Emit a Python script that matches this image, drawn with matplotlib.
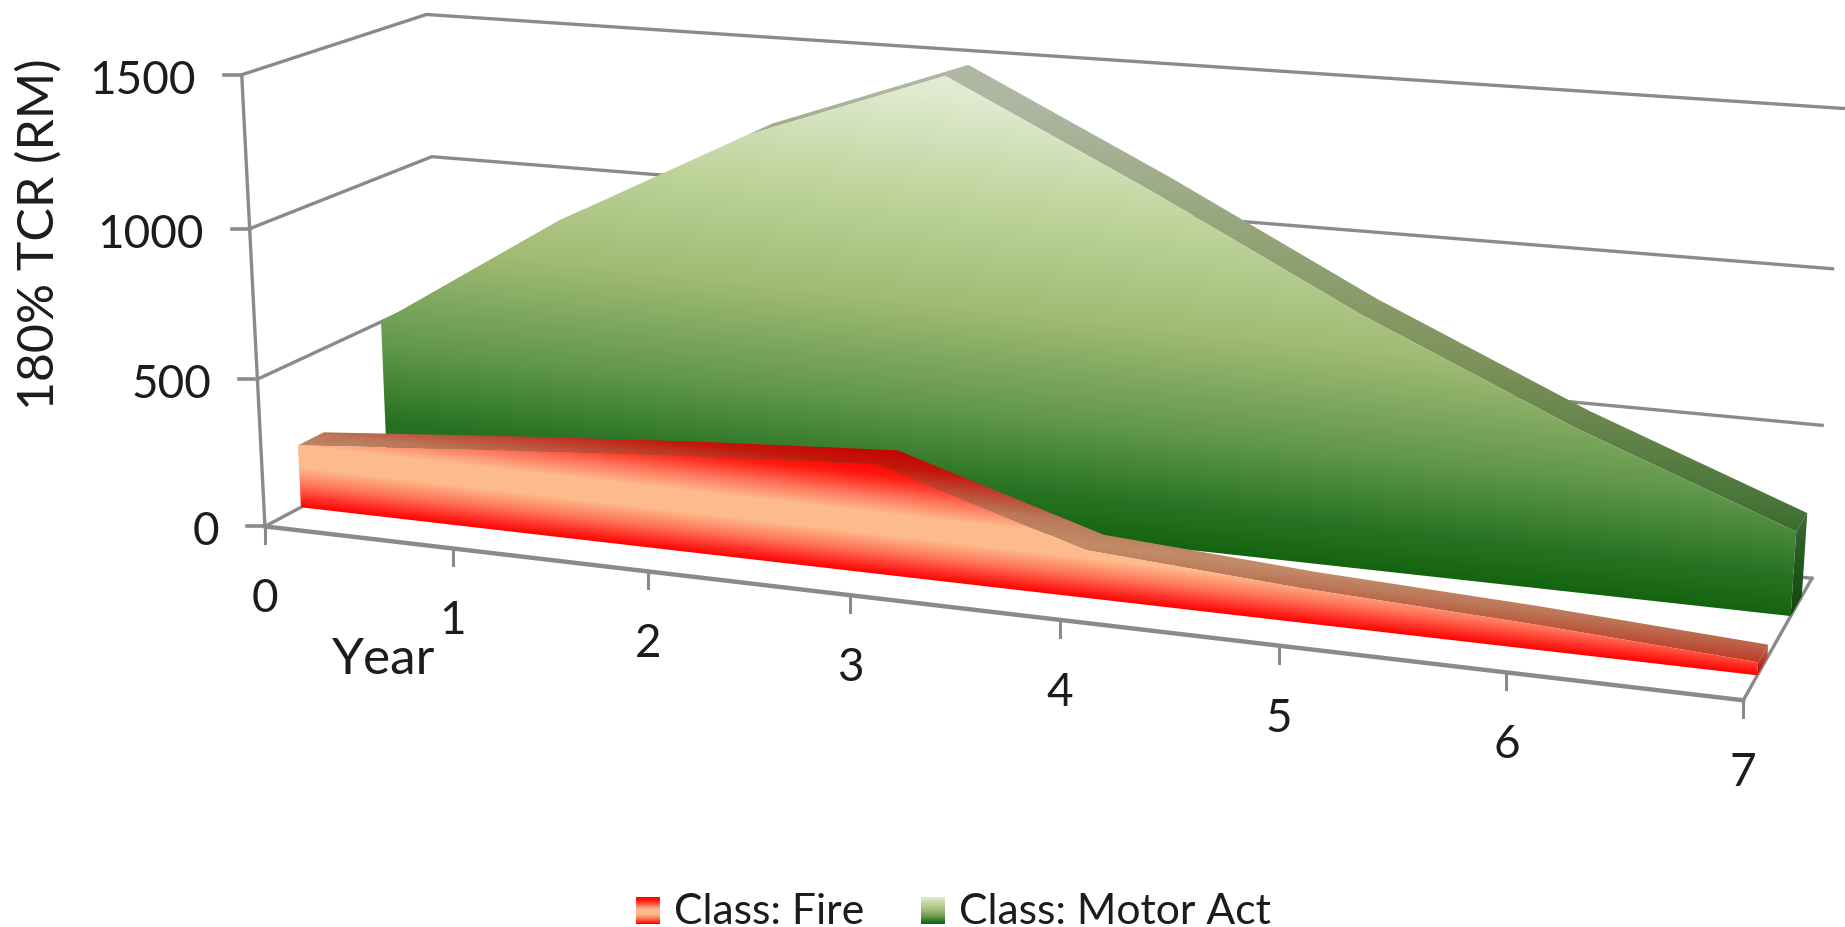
import numpy as np
import matplotlib
matplotlib.use('Agg')
import matplotlib.pyplot as plt
from matplotlib.patches import Polygon

plt.rcParams['font.family'] = ['Lato', 'DejaVu Sans']

years = [0, 1, 2, 3, 4, 5, 6, 7]
fire_tcr = [215, 270, 320, 360, 155, 110, 80, 40]
motor_tcr = [500, 910, 1250, 1490, 1170, 830, 530, 270]
value_ticks = [0, 500, 1000, 1500]
series_names = ['Class: Fire', 'Class: Motor Act']
value_label = '180% TCR (RM)'
year_label = 'Year'

W, H = 1845, 928
S = 1845 / 1568  # layout numbers below are in 1568-wide units

AXIS = '#8a8a8a'
TEXT = '#1c1c1c'

# camera fit: (year, depth, value) -> layout position of the chart box corners
box_refs = [
    (0, 0, 0, 226, 450), (7, 0, 0, 1481, 597), (7, 1, 0, 1539, 491),
    (0, 0, 500, 218, 322), (0, 0, 1000, 212, 193), (0, 0, 1500, 206, 65),
    (0, 1, 1000, 367, 134), (0, 1, 1500, 362, 14),
    (7, 1, 500, 1550, 362), (7, 1, 1000, 1558, 230), (7, 1, 1500, 1566, 93),
]


def fit_camera(refs):
    a, b = [], []
    for x, d, z, u, v in refs:
        X = [x / 7, d, z / 1500, 1]
        a.append(X + [0, 0, 0, 0] + [-u * c for c in X[:3]])
        b.append(u)
        a.append([0, 0, 0, 0] + X + [-v * c for c in X[:3]])
        b.append(v)
    p = np.linalg.lstsq(np.array(a, float), np.array(b, float), rcond=None)[0]
    return np.append(p, 1).reshape(3, 4)


CAM = fit_camera(box_refs)


def project(x, d, z):
    x, d, z = np.broadcast_arrays(np.asarray(x, float), d, np.asarray(z, float))
    pts = np.stack([x / 7, d, z / 1500, np.ones_like(x)])
    u, v, w = CAM @ pts
    return u / w * S, v / w * S


def gradient_rgb(offset, stops):
    pos = [s[0] for s in stops]
    return np.stack([np.interp(offset, pos, [s[1][i] for s in stops]) for i in range(3)], axis=-1) / 255


def painted(ax, poly, d, stops, shade, z):
    # fill a polygon with a colour ramp running parallel to the series' base line
    x0, y0 = project(0, d, 0)
    x1, y1 = project(7, d, 0)
    slope = (y1 - y0) / (x1 - x0)
    xx, yy = np.meshgrid(np.arange(W) + 0.5, np.arange(H) + 0.5)
    off = (yy - (y0 + slope * (xx - x0))) / S
    im = ax.imshow(gradient_rgb(off, stops) * shade, extent=(0, W, H, 0), aspect='auto',
                   interpolation='nearest', zorder=z)
    patch = Polygon(poly, closed=True, transform=ax.transData, fill=False, lw=0)
    ax.add_patch(patch)
    im.set_clip_path(patch)


def draw_area(ax, values, d_front, d_back, stops, ribbon_stops, z):
    yrs = np.array(years, float)
    vals = np.array(values, float)
    fx, fy = project(yrs, d_front, vals)
    bx, by = project(yrs, d_back, vals)
    bx0, by0 = project(yrs, d_front, 0 * vals)
    cx, cy = project(7, d_back, 0)

    ribbon = np.column_stack([np.r_[fx, bx[::-1]], np.r_[fy, by[::-1]]])
    painted(ax, ribbon, d_front, ribbon_stops, 0.78, z)
    cap = [(fx[-1], fy[-1]), (bx[-1], by[-1]), (cx, cy), (bx0[-1], by0[-1])]
    painted(ax, cap, d_front, stops, 0.72, z + 0.1)
    front = np.column_stack([np.r_[fx, bx0[::-1]], np.r_[fy, by0[::-1]]])
    painted(ax, front, d_front, stops, 1.0, z + 0.2)


fire_stops = [(-96, (255, 0, 0)), (-84, (255, 25, 15)), (-66, (255, 120, 95)), (-52, (253, 187, 140)),
              (-34, (253, 187, 140)), (-18, (255, 110, 85)), (0, (255, 0, 0))]
fire_top_stops = [(-110, (255, 0, 0)), (-92, (250, 30, 15)), (-64, (238, 154, 115)), (-45, (250, 180, 135)),
                  (-32, (240, 150, 110)), (-15, (243, 90, 64)), (0, (255, 40, 20))]
motor_stops = [(-368, (225, 235, 210)), (-275, (190, 212, 155)), (-185, (160, 187, 115)),
               (-95, (95, 150, 75)), (-35, (40, 115, 35)), (0, (20, 100, 15))]

fig = plt.figure(figsize=(W / 100, H / 100), dpi=100)
ax = fig.add_axes([0, 0, 1, 1])
ax.set_axis_off()

# walls and floor of the chart box
for v in value_ticks:
    xs, ys = project([0, 0, 7], [0, 1, 1], [v, v, v])
    ax.plot(xs, ys, color=AXIS, lw=2.4, zorder=1, solid_joinstyle='miter')
xs, ys = project([7, 7], [0, 1], [0, 0])
ax.plot(xs, ys, color=AXIS, lw=2.4, zorder=1)
xs, ys = project([0, 0], [0, 0], [0, 1500])
ax.plot(xs, ys, color=AXIS, lw=2.4, zorder=1)
xs, ys = project([0, 7], [0, 0], [0, 0])
ax.plot(xs, ys, color=AXIS, lw=3.2, zorder=1)

# areas, back one first
draw_area(ax, motor_tcr, 0.67, 0.84, motor_stops, motor_stops, 2)
draw_area(ax, fire_tcr, 0.19, 0.33, fire_stops, fire_top_stops, 3)
ax.set_xlim(0, W)
ax.set_ylim(H, 0)

# ticks and tick labels
for v in value_ticks:
    x, y = project(0, 0, v)
    ax.plot([x - 18, x], [y, y], color=AXIS, lw=2.6, zorder=1)
    ax.text(x - 46, y + 5, str(v), ha='right', va='center', fontsize=33, color=TEXT)
for yr in years:
    x, y = project(yr, 0, 0)
    ax.plot([x, x], [y, y + 17], color=AXIS, lw=2.2, zorder=1)
    ax.text(x, y + 72, str(yr), ha='center', va='center', fontsize=33, color=TEXT)

ax.text(384, 660, year_label, ha='center', va='center', fontsize=37, color=TEXT)
ax.text(39, 234, value_label, ha='center', va='center', rotation=90, fontsize=36, color=TEXT)

# legend
swatches = [(636, fire_stops, series_names[0]), (921, motor_stops, series_names[1])]
for x0, stops, name in swatches:
    off = np.linspace(stops[0][0], stops[-1][0], 64).reshape(-1, 1)
    ax.imshow(gradient_rgb(off, stops), extent=(x0, x0 + 24, 925, 898), aspect='auto', zorder=5)
    ax.text(x0 + 38, 912, name, ha='left', va='center', fontsize=30.7, color=TEXT)
ax.set_xlim(0, W)
ax.set_ylim(H, 0)

fig.savefig('out.png', dpi=100)
